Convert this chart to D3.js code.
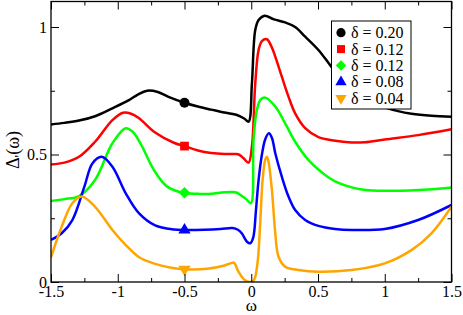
<!DOCTYPE html>
<html>
<head>
<meta charset="utf-8">
<script src="https://cdn.jsdelivr.net/npm/d3@7"></script>
<style>
  body { margin: 0; background: #fff; }
</style>
</head>
<body>
<div id="chart"></div>
<script>
// 各曲線資料 [omega, value]
var black = [[-1.5,0.618],[-1.4,0.624],[-1.29,0.633],[-1.17,0.65],[-1.04,0.681],[-0.92,0.712],[-0.85,0.735],[-0.78,0.75],[-0.7,0.745],[-0.62,0.726],[-0.5,0.703],[-0.4,0.688],[-0.3,0.676],[-0.23,0.668],[-0.107,0.655],[-0.05,0.64],[-0.02,0.629],[0.005,0.779],[0.03,0.988],[0.055,1.027],[0.1,1.044],[0.17,1.03],[0.254,1.018],[0.329,1.0],[0.404,0.962],[0.503,0.91],[0.59,0.851],[0.7,0.775],[0.8,0.73],[0.9,0.705],[1.0,0.685],[1.1,0.67],[1.2,0.66],[1.35,0.652],[1.5,0.648]];
var red = [[-1.5,0.461],[-1.4,0.468],[-1.29,0.491],[-1.17,0.55],[-1.04,0.635],[-0.96,0.664],[-0.9,0.66],[-0.84,0.642],[-0.72,0.586],[-0.58,0.546],[-0.5,0.533],[-0.4,0.516],[-0.3,0.506],[-0.2,0.502],[-0.12,0.502],[-0.09,0.499],[-0.057,0.485],[-0.02,0.468],[0.005,0.531],[0.03,0.779],[0.055,0.91],[0.08,0.945],[0.117,0.952],[0.15,0.925],[0.18,0.884],[0.229,0.805],[0.279,0.727],[0.329,0.661],[0.404,0.603],[0.503,0.568],[0.616,0.555],[0.75,0.547],[0.85,0.548],[1.0,0.559],[1.25,0.576],[1.5,0.599]];
var green = [[-1.5,0.318],[-1.4,0.325],[-1.29,0.337],[-1.17,0.4],[-1.04,0.544],[-0.94,0.603],[-0.89,0.59],[-0.83,0.544],[-0.73,0.44],[-0.63,0.374],[-0.51,0.35],[-0.4,0.346],[-0.33,0.345],[-0.2,0.352],[-0.15,0.353],[-0.107,0.35],[-0.07,0.337],[-0.032,0.322],[-0.002,0.309],[0.017,0.557],[0.042,0.675],[0.07,0.715],[0.105,0.723],[0.18,0.688],[0.254,0.622],[0.329,0.55],[0.429,0.478],[0.528,0.43],[0.628,0.395],[0.827,0.363],[1.075,0.358],[1.325,0.363],[1.5,0.371]];
var blue = [[-1.5,0.165],[-1.42,0.191],[-1.34,0.243],[-1.25,0.374],[-1.19,0.465],[-1.12,0.491],[-1.04,0.452],[-0.94,0.348],[-0.84,0.269],[-0.72,0.222],[-0.58,0.206],[-0.5,0.204],[-0.35,0.205],[-0.23,0.208],[-0.14,0.212],[-0.1,0.205],[-0.07,0.19],[-0.032,0.158],[-0.007,0.152],[0.015,0.175],[0.035,0.28],[0.055,0.4],[0.08,0.5],[0.105,0.56],[0.132,0.583],[0.155,0.565],[0.18,0.505],[0.229,0.413],[0.279,0.335],[0.329,0.282],[0.404,0.243],[0.503,0.22],[0.628,0.208],[0.752,0.204],[1.0,0.208],[1.25,0.243],[1.5,0.302]];
var orange = [[-1.5,0.097],[-1.42,0.217],[-1.34,0.309],[-1.27,0.335],[-1.17,0.295],[-1.04,0.204],[-0.94,0.145],[-0.84,0.097],[-0.72,0.071],[-0.6,0.056],[-0.5,0.05],[-0.33,0.052],[-0.2,0.065],[-0.15,0.074],[-0.13,0.076],[-0.095,0.04],[-0.05,0.008],[-0.01,0.0],[0.015,0.004],[0.03,0.02],[0.05,0.09],[0.067,0.23],[0.085,0.4],[0.105,0.48],[0.117,0.491],[0.13,0.47],[0.155,0.36],[0.18,0.191],[0.204,0.1],[0.254,0.06],[0.354,0.047],[0.503,0.04],[0.752,0.047],[1.0,0.073],[1.2,0.125],[1.35,0.191],[1.5,0.295]];

var seriesData = [black, red, green, blue, orange];
var seriesColors = ['#000000', '#ff0000', '#00ff00', '#0000ff', '#ffa500'];
var seriesSymbols = ['circle', 'square', 'diamond', 'triangle', 'triangleDown'];
var legendLabels = ['δ = 0.20', 'δ = 0.12', 'δ = 0.12', 'δ = 0.08', 'δ = 0.04'];
// 標記點 (omega = -0.5)
var markerX = -0.5;
var markerValues = [0.703, 0.533, 0.35, 0.204, 0.05];

var xTicks = [-1.5, -1, -0.5, 0, 0.5, 1, 1.5];
var xMinor = [-1.25, -0.75, -0.25, 0.25, 0.75, 1.25];
var yTicks = [0, 0.5, 1];
var yMinor = [0.25, 0.75];

const serif = '"Liberation Serif", "Times New Roman", "DejaVu Serif", serif';

// 畫布
const width = 463, height = 315;
const margin = {top: 1.5, right: 11.5, bottom: 33, left: 51};
var svg = d3.select('#chart').append('svg')
  .attr('width', width)
  .attr('height', height);

var x = d3.scaleLinear().domain([-1.5, 1.5]).range([margin.left, width - margin.right]);
var y = d3.scaleLinear().domain([0, 1.1]).range([height - margin.bottom, margin.top]);

svg.append('clipPath').attr('id', 'plotClip')
  .append('rect')
  .attr('x', x(-1.5)).attr('y', y(1.1))
  .attr('width', x(1.5) - x(-1.5)).attr('height', y(0) - y(1.1));

// 曲線
var line = d3.line()
  .x(d => x(d[0]))
  .y(d => y(d[1]))
  .curve(d3.curveCatmullRom.alpha(0.5));

svg.append('g').attr('clip-path', 'url(#plotClip)')
  .selectAll('path.curve')
  .data(seriesData)
  .enter()
  .append('path')
  .attr('class', 'curve')
  .attr('d', line)
  .attr('fill', 'none')
  .attr('stroke', (d, i) => seriesColors[i])
  .attr('stroke-width', 2.5)
  .attr('stroke-linejoin', 'round');

// 符號
function symbolPath(type, s) {
  if (type == 'circle') return d3.symbol(d3.symbolCircle, Math.PI * s * s)();
  if (type == 'square') return d3.symbol(d3.symbolSquare, (s * 1.75) * (s * 1.75))();
  if (type == 'diamond') return `M0,${-s * 1.15}L${s * 1.15},0L0,${s * 1.15}L${-s * 1.15},0Z`;
  return d3.symbol(d3.symbolTriangle, s * s * 2.6)();
}

svg.selectAll('path.marker')
  .data(markerValues)
  .enter()
  .append('path')
  .attr('class', 'marker')
  .attr('d', (d, i) => symbolPath(seriesSymbols[i], 5))
  .attr('transform', (d, i) => `translate(${x(markerX)},${y(d)})` + (seriesSymbols[i] == 'triangleDown' ? ' rotate(180)' : ''))
  .attr('fill', (d, i) => seriesColors[i]);

// 座標軸
function drawAxis(axis, tx, ty, labels) {
  var g = svg.append('g')
    .attr('transform', `translate(${tx},${ty})`)
    .call(axis);
  g.attr('font-family', serif).attr('font-size', 16);
  g.select('.domain').remove();
  g.selectAll('.tick line').attr('stroke', '#000').attr('stroke-width', 1);
  g.selectAll('text').style('font-family', serif).style('font-size', '16px').attr('fill', '#000');
  if (!labels) g.selectAll('text').remove();
  return g;
}
drawAxis(d3.axisBottom(x).tickValues(xTicks).tickSize(-8).tickPadding(4).tickFormat(d => String(d)), 0, y(0), true);
drawAxis(d3.axisBottom(x).tickValues(xMinor).tickSize(-4), 0, y(0), false);
drawAxis(d3.axisTop(x).tickValues(xTicks).tickSize(-8), 0, y(1.1), false);
drawAxis(d3.axisTop(x).tickValues(xMinor).tickSize(-4), 0, y(1.1), false);
drawAxis(d3.axisLeft(y).tickValues(yTicks).tickSize(-8).tickPadding(4).tickFormat(d => String(d)), x(-1.5), 0, true);
drawAxis(d3.axisLeft(y).tickValues(yMinor).tickSize(-4), x(-1.5), 0, false);
drawAxis(d3.axisRight(y).tickValues(yTicks).tickSize(-8), x(1.5), 0, false);
drawAxis(d3.axisRight(y).tickValues(yMinor).tickSize(-4), x(1.5), 0, false);

// 外框
svg.append('rect')
  .attr('x', x(-1.5)).attr('y', y(1.1))
  .attr('width', x(1.5) - x(-1.5)).attr('height', y(0) - y(1.1))
  .attr('fill', 'none')
  .attr('stroke', '#000')
  .attr('stroke-width', 1.3);

// 軸標題
svg.append('text')
  .attr('x', x(0))
  .attr('y', 311)
  .style('text-anchor', 'middle')
  .style('font-family', serif)
  .style('font-size', '17px')
  .text('ω');

var yTitle = svg.append('text')
  .attr('transform', 'translate(19,150) rotate(-90)')
  .style('text-anchor', 'middle')
  .style('font-family', serif)
  .style('font-size', '18px');
yTitle.append('tspan').text('Δ');
yTitle.append('tspan').attr('dy', 6).style('font-size', '15px').text('\'');
yTitle.append('tspan').attr('dy', -6).text('(ω)');

// 圖例
var legendX = 331.5, legendY = 21, legendRow = 16.4;
svg.append('rect')
  .attr('x', legendX).attr('y', legendY)
  .attr('width', 79.5).attr('height', 88)
  .attr('fill', '#fff')
  .attr('stroke', '#000')
  .attr('stroke-width', 1);

var legend = svg.selectAll('g.legendItem')
  .data(legendLabels)
  .enter()
  .append('g')
  .attr('class', 'legendItem')
  .attr('transform', (d, i) => `translate(${legendX + 9.5},${legendY + 11.7 + i * legendRow})`);
legend.append('path')
  .attr('d', (d, i) => symbolPath(seriesSymbols[i], 4.6))
  .attr('transform', (d, i) => seriesSymbols[i] == 'triangleDown' ? 'rotate(180)' : null)
  .attr('fill', (d, i) => seriesColors[i]);
legend.append('text')
  .attr('x', 10)
  .attr('y', 5.5)
  .style('font-family', serif)
  .style('font-size', '16px')
  .text(d => d);
</script>
</body>
</html>
